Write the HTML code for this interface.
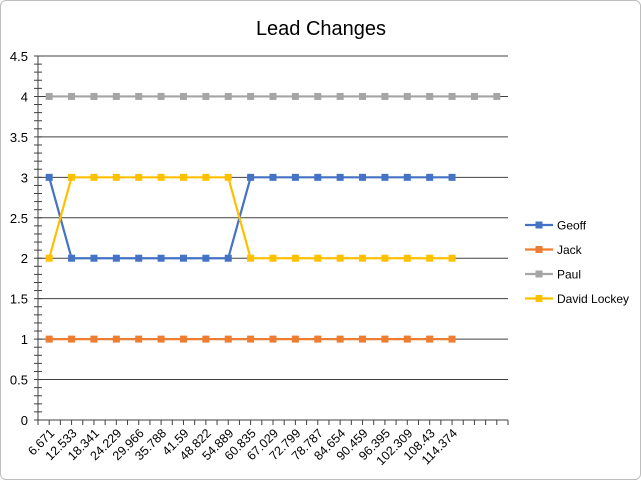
<!DOCTYPE html>
<html><head><meta charset="utf-8"><style>
body{margin:0;background:#fff;font-family:"Liberation Sans",sans-serif}
#wrap{position:relative;width:639px;height:478px;border:1px solid #bdbdbd;border-radius:6px;overflow:hidden}
</style></head><body>
<div id="wrap">
<svg id="chart" width="639" height="478"></svg>
</div>
<script>
const categories=["6.671","12.533","18.341","24.229","29.966","35.788","41.59","48.822","54.889","60.835","67.029","72.799","78.787","84.654","90.459","96.395","102.309","108.43","114.374","",""];
const geoff=[3,2,2,2,2,2,2,2,2,3,3,3,3,3,3,3,3,3,3];
const jack=[1,1,1,1,1,1,1,1,1,1,1,1,1,1,1,1,1,1,1];
const paul=[4,4,4,4,4,4,4,4,4,4,4,4,4,4,4,4,4,4,4,4,4];
const david=[2,3,3,3,3,3,3,3,3,2,2,2,2,2,2,2,2,2,2];
const yTicks=[0,0.5,1,1.5,2,2.5,3,3.5,4,4.5];
const seriesNames=["Geoff","Jack","Paul","David Lockey"];
const colors=["#4472c4","#ed7d31","#a5a5a5","#ffc000"];
const ns="http://www.w3.org/2000/svg";
const svg=document.getElementById('chart');
const L=37,R=507,T=55,B=419,YMAX=4.5;
const n=categories.length,step=(R-L)/n;
const x=i=>L+step*(i+0.5);
const y=v=>B-(v/YMAX)*(B-T);
function mk(t,a){const e=document.createElementNS(ns,t);for(const k in a)e.setAttribute(k,a[k]);svg.appendChild(e);return e;}
let t=mk('text',{x:320,y:34,'text-anchor':'middle','font-size':20,fill:'#000'});t.textContent="Lead Changes";


yTicks.forEach(v=>{
 if(v>0){const g=mk('line',{x1:L,x2:R,y1:y(v),y2:y(v),stroke:'#404040','stroke-width':1});
 
 }
 const l=mk('text',{x:27,y:y(v)+5,'text-anchor':'end','font-size':13,fill:'#000'});l.textContent=v;
 
 
});
for(let v=0;v<=YMAX+1e-9;v+=0.1){mk('line',{x1:L-4,x2:L+4,y1:y(v),y2:y(v),stroke:'#404040'});}
let ya=mk('line',{x1:L,x2:L,y1:T,y2:B,stroke:'#404040'});


let xa=mk('line',{x1:L,x2:R,y1:B,y2:B,stroke:'#404040'});


for(let i=0;i<=2*n;i++){const xx=L+step*i/2;mk('line',{x1:xx,x2:xx,y1:B,y2:B+5,stroke:'#404040'});}
categories.forEach((c,i)=>{
 const tx=x(i)+6,ty=B+14;
 const l=mk('text',{x:tx,y:ty,'text-anchor':'end','font-size':12.5,fill:'#000',transform:`rotate(-45 ${tx} ${ty})`});l.textContent=c;
 
 
});
[geoff,jack,paul,david].forEach((s,si)=>{
 const p=mk('polyline',{points:s.map((v,i)=>x(i)+','+y(v)).join(' '),fill:'none',stroke:colors[si],'stroke-width':2.2});
 
 
 s.forEach((v,i)=>{const r=mk('rect',{x:x(i)-3.5,y:y(v)-3.5,width:7,height:7,fill:colors[si]});
 
 });
});
seriesNames.forEach((nm,i)=>{
 const ly=224+i*24.5;
 const g=mk('line',{x1:524,x2:552,y1:ly,y2:ly,stroke:colors[i],'stroke-width':2.2});
 
 
 mk('rect',{x:534.5,y:ly-3.5,width:7,height:7,fill:colors[i]});
 const l=mk('text',{x:556,y:ly+4.5,'font-size':12,fill:'#000'});l.textContent=nm;
 
 
});
</script>
</body></html>
